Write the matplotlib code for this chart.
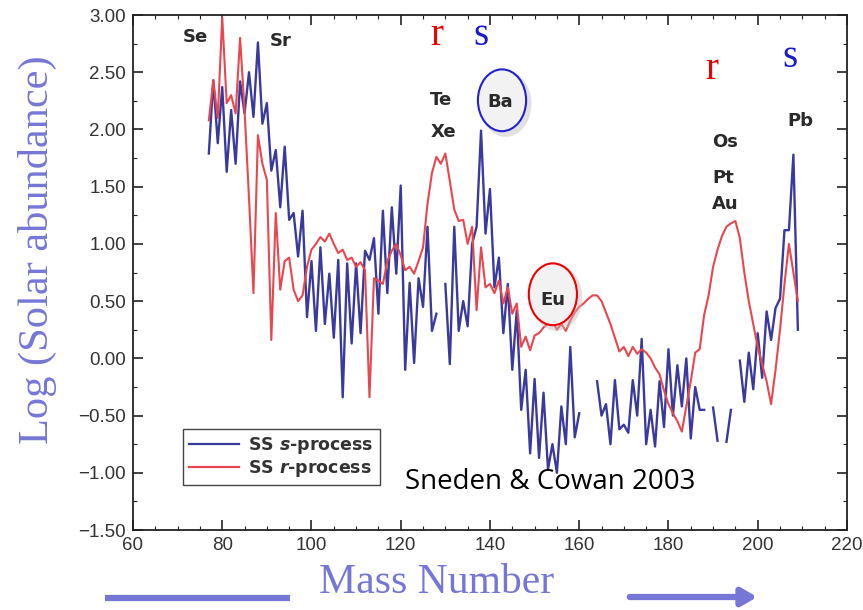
import numpy as np
import matplotlib
matplotlib.use('Agg')
import matplotlib.pyplot as plt
from matplotlib.patches import Ellipse, FancyArrowPatch
from matplotlib.lines import Line2D

plt.rcParams['font.family'] = ['Liberation Sans', 'DejaVu Sans']
plt.rcParams['mathtext.fontset'] = 'custom'
plt.rcParams['mathtext.it'] = 'DejaVu Sans:italic:bold'
plt.rcParams['mathtext.rm'] = 'DejaVu Sans:bold'

# mass numbers 77..209
mass = np.arange(77, 210)

# solar system s-process abundances (nan = no value)
nan = np.nan
s_proc = [1.79, 2.43, 1.88, 2.37, 1.63, 2.17, 1.70, 2.42, 2.14, 2.50,   # 77-86
          2.11, 2.76, 2.05, 2.23, 1.64, 1.82, 1.32, 1.85, 1.21, 1.27,   # 87-96
          0.89, 1.29, 0.36, 0.85, 0.24, 0.97, 0.30, 0.74, 0.18, 0.86,   # 97-106
          -0.34, 0.83, 0.13, 0.83, 0.22, 0.94, 0.86, 1.05, 0.39, 1.29,  # 107-116
          0.57, 1.32, 0.74, 1.51, -0.10, 0.66, -0.04, 0.70, 0.45, 1.15, # 117-126
          0.24, 0.39, nan, 0.65, -0.05, 1.15, 0.24, 0.50, 0.28, 1.00,   # 127-136
          1.15, 1.99, 1.09, 1.48, 0.62, 0.88, 0.22, 0.65, -0.10, 0.42,  # 137-146
          -0.45, -0.10, -0.83, -0.18, -0.87, -0.30, -0.97, -0.75, -1.00, -0.42,  # 147-156
          -0.75, 0.10, -0.69, -0.48, nan, nan, nan, -0.20, -0.50, -0.40,  # 157-166
          -0.75, -0.19, -0.62, -0.58, -0.65, -0.19, -0.50, 0.17, -0.75, -0.45,  # 167-176
          -0.77, -0.20, -0.60, 0.08, -0.50, -0.06, -0.42, 0.00, -0.70, -0.25,  # 177-186
          -0.45, -0.45, nan, -0.43, -0.72, nan, -0.73, -0.45, nan, -0.02,  # 187-196
          -0.38, 0.05, -0.27, 0.22, -0.17, 0.41, 0.16, 0.44, 0.52, 1.12,  # 197-206
          1.12, 1.78, 0.25]                                               # 207-209

# solar system r-process abundances
r_proc = [2.08, 2.43, 2.10, 2.98, 2.23, 2.30, 2.14, 2.80, 2.17, 1.40,   # 77-86
          0.57, 1.95, 1.70, 1.56, 0.16, 1.27, 0.60, 0.85, 0.88, 0.60,   # 87-96
          0.50, 0.55, 0.80, 0.95, 1.00, 1.06, 1.02, 1.09, 1.00, 0.92,   # 97-106
          0.95, 0.86, 0.88, 0.80, 0.84, 0.77, -0.34, 0.70, 0.68, 0.65,  # 107-116
          0.85, 0.94, 1.00, 0.90, 0.77, 0.80, 0.74, 0.85, 0.97, 1.35,   # 117-126
          1.62, 1.76, 1.70, 1.79, 1.55, 1.30, 1.20, 1.21, 1.00, 1.15,   # 127-136
          0.42, 0.97, 0.62, 0.65, 0.57, 0.68, 0.48, 0.62, 0.39, 0.48,   # 137-146
          0.10, 0.19, 0.07, 0.20, 0.22, 0.27, 0.30, 0.33, 0.25, 0.30,   # 147-156
          0.24, 0.33, 0.40, 0.45, 0.48, 0.52, 0.55, 0.55, 0.50, 0.40,   # 157-166
          0.30, 0.18, 0.06, 0.10, 0.02, 0.10, 0.04, 0.08, 0.05, 0.00,   # 167-176
          -0.08, -0.14, -0.28, -0.40, -0.48, -0.55, -0.64, -0.42, -0.20, 0.05,  # 177-186
          0.08, 0.38, 0.55, 0.80, 0.95, 1.07, 1.15, 1.18, 1.20, 1.05,   # 187-196
          0.75, 0.50, 0.30, 0.10, -0.05, -0.20, -0.40, -0.10, 0.25, 0.65,  # 197-206
          1.00, 0.75, 0.50]                                               # 207-209

# element labels (name, mass position, log abundance position)
elem_names = ['Se', 'Sr', 'Te', 'Xe', 'Ba', 'Eu', 'Os', 'Pt', 'Au', 'Pb']
elem_x = [73.9, 93.2, 129.0, 129.5, 142.2, 154.1, 192.7, 192.2, 192.7, 209.5]
elem_y = [2.81, 2.77, 2.26, 1.98, 2.24, 0.51, 1.89, 1.58, 1.35, 2.07]

blue = '#3a3a9e'
red = '#e8474f'
lavender = '#7676d6'

fig = plt.figure(figsize=(8.63, 6.10), dpi=100)
ax = fig.add_axes([0.1541, 0.1311, 0.8273, 0.8443])

ax.plot(mass, s_proc, color=blue, lw=1.7, zorder=3)
ax.plot(mass, r_proc, color=red, lw=1.5, zorder=3)

ax.set_xlim(60, 220)
ax.set_ylim(-1.5, 3.0)
ax.set_xticks(np.arange(60, 221, 20))
ax.set_yticks(np.arange(-1.5, 3.01, 0.5))
ax.set_xticks(np.arange(60, 221, 5), minor=True)
ax.set_yticks(np.arange(-1.5, 3.01, 0.25), minor=True)
ax.yaxis.set_major_formatter(matplotlib.ticker.FuncFormatter(
    lambda v, p: ('%.2f' % v).replace('-', '\u2212')))
ax.tick_params(which='both', direction='in', top=True, right=True,
               colors='#222222', labelcolor='#333333', labelsize=13.5)
ax.tick_params(which='major', length=7, width=1.2, pad=5)
ax.tick_params(which='minor', length=3, width=0.8)
for sp in ax.spines.values():
    sp.set_color('#222222')
    sp.set_linewidth(1.3)

# element names
for name, x, y in zip(elem_names, elem_x, elem_y):
    ax.text(x, y, name, ha='center', va='center', fontsize=13,
            fontweight='bold', family='DejaVu Sans', color='#2a2a2a', zorder=6)

# circled Ba and Eu
for cx, cy, ec in [(142.7, 2.255, '#2222cc'), (154.1, 0.56, '#ee0000')]:
    ax.add_patch(Ellipse((cx + 0.8, cy - 0.03), 11.6, 0.58, facecolor='#bdbdbd',
                         edgecolor='none', alpha=0.45, zorder=4))
    ax.add_patch(Ellipse((cx, cy), 10.8, 0.54, facecolor='#f2f2f2',
                         edgecolor=ec, lw=1.5, zorder=5))

# r / s markers
for x, y, t, c in [(128.1, 2.82, 'r', '#ee0000'), (138.0, 2.82, 's', '#1a1acc'),
                   (189.7, 2.52, 'r', '#ee0000'), (207.2, 2.63, 's', '#1a1acc')]:
    ax.text(x, y, t, ha='center', va='center', fontsize=28, color=c,
            family='Liberation Serif', zorder=6)

ax.text(121.0, -1.08, 'Sneden & Cowan 2003', ha='left', va='center',
        fontsize=20, family='Open Sans', color='black', zorder=6)

handles = [Line2D([], [], color=blue, lw=1.6), Line2D([], [], color=red, lw=1.6)]
leg = ax.legend(handles, ['SS $\\it{s}$-process', 'SS $\\it{r}$-process'],
                loc='lower left', bbox_to_anchor=(0.07, 0.087), borderaxespad=0,
                fancybox=False, framealpha=1, edgecolor='#444444',
                handlelength=2.9, handletextpad=0.5, labelspacing=0.1,
                borderpad=0.35,
                prop={'size': 12.5, 'weight': 'bold', 'family': 'DejaVu Sans'})
for t in leg.get_texts():
    t.set_color('#333333')
leg.get_frame().set_linewidth(1.0)
leg.set_zorder(7)

fig.text(0.044, 0.59, 'Log (Solar abundance)', rotation=90, ha='center',
         va='center', fontsize=30.5, family='Liberation Serif', color=lavender)
fig.text(0.506, 0.044, 'Mass Number', ha='center', va='center',
         fontsize=30, family='Liberation Serif', color=lavender)

# bottom arrow
fig.add_artist(Line2D([0.1217, 0.336], [0.0197, 0.0197], transform=fig.transFigure,
                      color=lavender, lw=4.5, solid_capstyle='butt'))
fig.add_artist(FancyArrowPatch((0.7265, 0.0213), (0.8806, 0.0213),
                               transform=fig.transFigure, color=lavender,
                               arrowstyle='-|>,head_length=0.6,head_width=0.35',
                               lw=4.5, mutation_scale=15))

fig.savefig('out.png', dpi=100)
